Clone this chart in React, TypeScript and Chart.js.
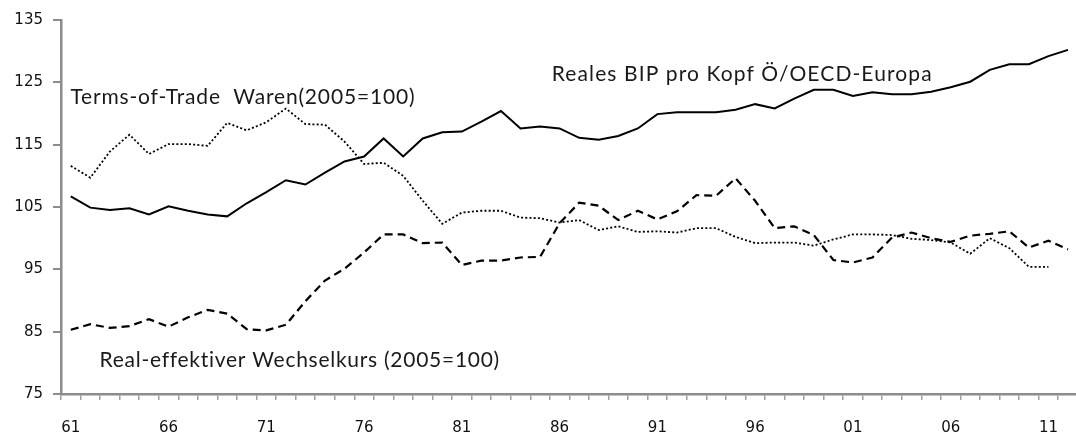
import React, { useEffect, useRef } from 'react';
import { Chart, registerables } from 'chart.js';

Chart.register(...registerables);

const years = [
  '61', '62', '63', '64', '65', '66', '67', '68', '69', '70',
  '71', '72', '73', '74', '75', '76', '77', '78', '79', '80',
  '81', '82', '83', '84', '85', '86', '87', '88', '89', '90',
  '91', '92', '93', '94', '95', '96', '97', '98', '99', '00',
  '01', '02', '03', '04', '05', '06', '07', '08', '09', '10',
  '11', '12',
];

const bipValues = [
  106.7, 104.9, 104.5, 104.8, 103.8, 105.1, 104.4, 103.8, 103.5, 105.6,
  107.4, 109.3, 108.6, 110.5, 112.3, 113.1, 116.0, 113.1, 116.0, 117.0,
  117.1, 118.7, 120.4, 117.6, 117.9, 117.6, 116.1, 115.8, 116.4, 117.6,
  119.9, 120.2, 120.2, 120.2, 120.6, 121.5, 120.8, 122.4, 123.8, 123.8,
  122.8, 123.4, 123.1, 123.1, 123.5, 124.2, 125.1, 127.0, 127.9, 127.9,
  129.2, 130.2,
];

const totValues = [
  111.6, 109.7, 113.9, 116.6, 113.5, 115.1, 115.1, 114.8, 118.5, 117.3,
  118.6, 120.8, 118.3, 118.2, 115.5, 111.9, 112.1, 110.0, 106.0, 102.3,
  104.1, 104.4, 104.4, 103.3, 103.2, 102.5, 102.9, 101.3, 101.9, 101.0,
  101.1, 100.9, 101.6, 101.6, 100.2, 99.2, 99.3, 99.3, 98.8, 99.8,
  100.6, 100.6, 100.5, 99.9, 99.7, 99.3, 97.5, 100.0, 98.4, 95.4,
  95.4, null,
];

const reerValues = [
  85.3, 86.2, 85.6, 85.9, 87.0, 85.8, 87.3, 88.5, 87.9, 85.4,
  85.2, 86.1, 89.9, 93.2, 95.1, 97.7, 100.6, 100.6, 99.2, 99.3,
  95.7, 96.4, 96.4, 96.9, 97.0, 102.4, 105.7, 105.2, 102.9, 104.4,
  103.0, 104.3, 106.9, 106.8, 109.6, 106.0, 101.6, 101.9, 100.5, 96.5,
  96.1, 96.9, 100.1, 100.9, 100.0, 99.4, 100.4, 100.7, 101.1, 98.5,
  99.6, 98.2,
];

const yMin = 75;
const yMax = 135;
const yStep = 10;

const annotationTexts = [
  'Terms-of-Trade  Waren(2005=100)',
  'Reales BIP pro Kopf Ö/OECD-Europa',
  'Real-effektiver Wechselkurs (2005=100)',
];
// anchor: category index (left edge of text), value (baseline), target text width in px
const annotationAnchors = [
  { xi: -0.02, v: 121.5, w: 345 },
  { xi: 24.6, v: 125.2, w: 381 },
  { xi: 1.47, v: 79.4, w: 400 },
];

const annotationPlugin = {
  id: 'seriesLabels',
  afterDatasetsDraw(chart: any) {
    const { ctx, scales } = chart;
    const xs = scales.x;
    const ys = scales.y;
    ctx.save();
    ctx.font = '21px Lato';
    ctx.fillStyle = '#1a1a1a';
    ctx.textAlign = 'left';
    ctx.textBaseline = 'alphabetic';
    annotationTexts.forEach((t, i) => {
      const a = annotationAnchors[i];
      (ctx as any).letterSpacing = '0px';
      const w = ctx.measureText(t).width;
      const ls = (a.w - w) / t.length;
      (ctx as any).letterSpacing = ls.toFixed(2) + 'px';
      ctx.fillText(t, xs.getPixelForValue(a.xi), ys.getPixelForValue(a.v));
    });
    (ctx as any).letterSpacing = '0px';
    ctx.restore();
  },
};

export default function App() {
  const ref = useRef<HTMLCanvasElement | null>(null);

  useEffect(() => {
    const canvas = ref.current;
    if (!canvas) return;
    const chart = new Chart(canvas, {
      type: 'line',
      data: {
        labels: years,
        datasets: [
          {
            label: 'Reales BIP pro Kopf Ö/OECD-Europa',
            data: bipValues,
            borderColor: '#000',
            borderWidth: 2,
            pointRadius: 0,
            tension: 0,
            fill: false,
          },
          {
            label: 'Terms-of-Trade Waren (2005=100)',
            data: totValues,
            borderColor: '#000',
            borderWidth: 1.8,
            borderDash: [2, 2.2],
            pointRadius: 0,
            tension: 0,
            fill: false,
          },
          {
            label: 'Real-effektiver Wechselkurs (2005=100)',
            data: reerValues,
            borderColor: '#000',
            borderWidth: 2.2,
            borderDash: [8, 5],
            pointRadius: 0,
            tension: 0,
            fill: false,
          },
        ],
      },
      options: {
        responsive: false,
        animation: false,
        devicePixelRatio: 1,
        layout: { padding: { top: 20, right: 0, bottom: 0, left: 0 } },
        plugins: {
          legend: { display: false },
          tooltip: { enabled: false },
        },
        scales: {
          x: {
            type: 'category',
            offset: true,
            grid: {
              display: true,
              offset: true,
              drawOnChartArea: false,
              drawTicks: true,
              tickLength: 6,
              color: '#a0a0a0',
              lineWidth: 1.5,
            },
            border: { display: true, color: '#8c8c8c', width: 2.5 },
            ticks: {
              autoSkip: false,
              maxRotation: 0,
              padding: 19,
              color: '#111',
              font: { family: 'DejaVu Sans', size: 15 },
              callback: (_v: any, i: number) => (i % 5 === 0 ? years[i] : ''),
            },
            afterFit: (s: any) => {
              s.height = 42;
            },
          },
          y: {
            min: yMin,
            max: yMax,
            ticks: {
              stepSize: yStep,
              padding: 10,
              color: '#111',
              font: { family: 'DejaVu Sans', size: 15 },
            },
            grid: {
              display: true,
              drawOnChartArea: false,
              drawTicks: true,
              tickLength: 8,
              color: '#8c8c8c',
              lineWidth: 2,
            },
            border: { display: true, color: '#8c8c8c', width: 2.5 },
            afterFit: (s: any) => {
              s.width = 61;
            },
          },
        },
      },
      plugins: [annotationPlugin],
    });
    return () => chart.destroy();
  }, []);

  return (
    <div
      style={{
        position: 'absolute',
        left: 0,
        top: 0,
        width: 1076,
        height: 436,
        overflow: 'hidden',
        background: '#fff',
      }}
    >
      <canvas ref={ref} width={1087} height={436} style={{ display: 'block' }} />
    </div>
  );
}
